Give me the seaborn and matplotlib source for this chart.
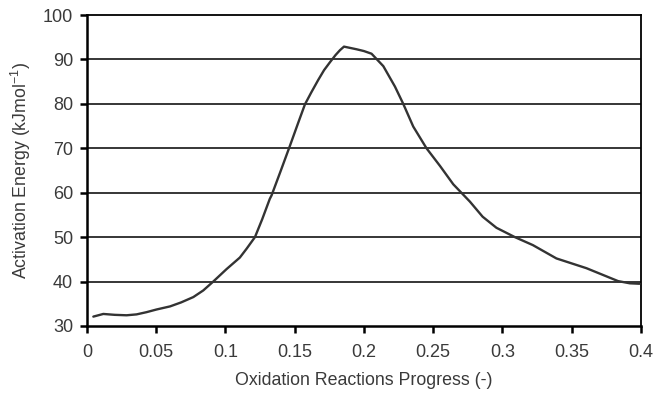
import matplotlib
matplotlib.use("Agg")
import matplotlib.pyplot as plt
import seaborn as sns
import pandas as pd

progress = [0.0046, 0.0118, 0.02, 0.0286, 0.0358, 0.043, 0.0502, 0.06, 0.068, 0.0768, 0.084, 0.0912,
            0.1008, 0.1104, 0.1153, 0.1213, 0.1265, 0.132, 0.1333, 0.14, 0.1466, 0.1526, 0.1574,
            0.162, 0.167, 0.1712, 0.1755, 0.1795, 0.1827, 0.1856, 0.1947, 0.2, 0.2055, 0.214,
            0.2224, 0.2284, 0.2356, 0.2452, 0.255, 0.2645, 0.2765, 0.2857, 0.2957, 0.309, 0.322,
            0.339, 0.3607, 0.3835, 0.392, 0.399]
energy = [32.1, 32.7, 32.5, 32.4, 32.6, 33.1, 33.7, 34.4, 35.3, 36.5, 38.0, 40.0,
          42.8, 45.4, 47.4, 50.0, 54.0, 58.6, 59.4, 65.0, 70.6, 75.8, 79.9,
          82.6, 85.4, 87.6, 89.4, 91.0, 92.1, 92.9, 92.3, 91.9, 91.3, 88.5,
          83.9, 80.0, 74.9, 70.0, 66.0, 61.9, 58.0, 54.6, 52.1, 50.0, 48.2,
          45.2, 43.0, 40.1, 39.6, 39.5]

xticks = [0, 0.05, 0.1, 0.15, 0.2, 0.25, 0.3, 0.35, 0.4]
xticklabels = ["0", "0.05", "0.1", "0.15", "0.2", "0.25", "0.3", "0.35", "0.4"]
yticks = [30, 40, 50, 60, 70, 80, 90, 100]

df = pd.DataFrame({"progress": progress, "energy": energy})

sns.set_theme(style="white")
plt.rcParams["font.family"] = ["Liberation Sans", "DejaVu Sans"]
text_color = "#3a3a3a"
fs_tick = 13
fs_label = 12.8

fig = plt.figure(figsize=(6.69, 3.97), dpi=100)
ax = fig.add_axes([0.130, 0.179, 0.828, 0.783])

sns.lineplot(data=df, x="progress", y="energy", ax=ax, color="#333333", linewidth=1.7,
             sort=False, zorder=3)

ax.set_xlim(0, 0.4)
ax.set_ylim(30, 100)
ax.set_xticks(xticks)
ax.set_xticklabels(xticklabels)
ax.set_yticks(yticks)
for y in yticks[1:-1]:
    ax.axhline(y, color="black", linewidth=1.1, zorder=1)

for s in ax.spines.values():
    s.set_visible(True)
    s.set_color("black")
ax.spines["left"].set_linewidth(1.8)
ax.spines["bottom"].set_linewidth(1.8)
ax.spines["top"].set_linewidth(1.3)
ax.spines["right"].set_linewidth(1.3)

ax.tick_params(axis="both", direction="out", length=5, width=1.8, color="black",
               labelsize=fs_tick, labelcolor=text_color, left=True, bottom=True)
ax.tick_params(axis="y", pad=5)
ax.tick_params(axis="x", pad=8)

ax.set_xlabel("Oxidation Reactions Progress (-)", fontsize=fs_label, color=text_color, labelpad=8)
ax.set_ylabel(r"Activation Energy (kJmol$^{\mathregular{-1}}$)", fontsize=fs_label,
              color=text_color, labelpad=7)

fig.savefig("out.png", dpi=100)
